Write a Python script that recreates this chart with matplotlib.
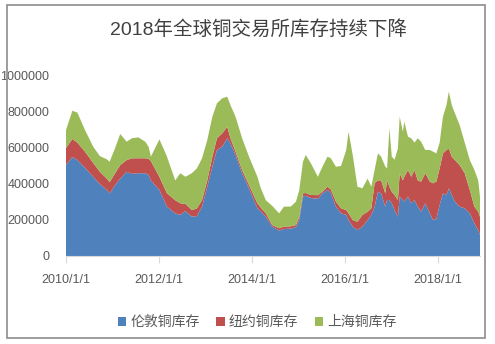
import numpy as np
import pandas as pd
import matplotlib
matplotlib.use("Agg")
import matplotlib.pyplot as plt
from matplotlib.patches import Rectangle

plt.rcParams['font.family'] = ['Liberation Sans', 'Noto Sans CJK SC', 'DejaVu Sans']

# copper stocks, thousand tonnes
dates = ["2010-01-01", "2010-02-20", "2010-04-01", "2010-05-30", "2010-08-03", "2010-09-24",
         "2010-11-18", "2010-12-10", "2011-01-22", "2011-03-03", "2011-04-23", "2011-06-02",
         "2011-07-23", "2011-09-16", "2011-10-12", "2011-10-30", "2012-01-05", "2012-03-03",
         "2012-05-08", "2012-06-17", "2012-07-27", "2012-09-16", "2012-10-26", "2012-12-05",
         "2013-01-15", "2013-02-24", "2013-04-01", "2013-05-12", "2013-06-21", "2013-07-16",
         "2013-08-25", "2013-10-16", "2013-12-09", "2014-02-13", "2014-03-10", "2014-04-20",
         "2014-06-10", "2014-08-03", "2014-09-09", "2014-11-03", "2014-12-13", "2015-01-08",
         "2015-02-06", "2015-02-28", "2015-04-09", "2015-06-03", "2015-07-09", "2015-08-18",
         "2015-09-13", "2015-10-23", "2015-12-02", "2016-01-12", "2016-01-30", "2016-03-03",
         "2016-04-09", "2016-05-18", "2016-06-28", "2016-07-27", "2016-08-22", "2016-09-17",
         "2016-10-12", "2016-11-14", "2016-11-28", "2016-12-16", "2017-01-04", "2017-01-26",
         "2017-02-21", "2017-03-07", "2017-04-01", "2017-04-12", "2017-05-11", "2017-06-06",
         "2017-07-01", "2017-07-27", "2017-08-22", "2017-09-24", "2017-10-30", "2017-11-24",
         "2017-12-20", "2018-01-15", "2018-02-10", "2018-03-10", "2018-03-28", "2018-04-20",
         "2018-05-15", "2018-06-21", "2018-07-31", "2018-09-09", "2018-10-15", "2018-11-14",
         "2018-11-28"]

london = [505, 550, 533, 490, 440, 400, 367, 348, 394, 430, 468, 456,
          460, 460, 450, 420, 367, 275, 237, 228, 250, 218, 222, 274,
          385, 496, 589, 607, 654, 626, 561, 460, 376, 265, 250, 218,
          163, 141, 150, 152, 160, 200, 330, 335, 322, 318, 348, 367,
          350, 274, 237, 228, 200, 163, 144, 163, 200, 228, 274, 357,
          348, 274, 311, 311, 293, 255, 218, 330, 311, 302, 330, 293,
          311, 274, 246, 293, 237, 200, 205, 283, 348, 339, 376, 339,
          302, 274, 265, 237, 181, 144, 117]

newyork = [95, 100, 97, 90, 77, 68, 63, 62, 66, 75, 65, 87,
           83, 83, 90, 107, 73, 75, 73, 65, 40, 37, 43, 37,
           35, 56, 65, 74, 64, 28, 19, 18, 18, 28, 20, 19,
           9, 13, 13, 13, 12, 18, 18, 15, 17, 20, 9, 18,
           20, 28, 28, 27, 37, 37, 46, 65, 46, 37, 130, 63,
           72, 74, 109, 74, 64, 84, 93, 130, 109, 138, 148, 147,
           167, 146, 167, 167, 176, 204, 208, 204, 222, 250, 222, 213,
           231, 231, 195, 130, 93, 102, 101]

shanghai = [100, 157, 166, 120, 90, 87, 107, 114, 140, 173, 102, 111,
            116, 92, 67, 25, 208, 205, 110, 167, 150, 205, 222, 232,
            224, 222, 194, 195, 167, 185, 194, 176, 158, 147, 110, 73,
            106, 83, 111, 110, 130, 149, 176, 211, 176, 102, 139, 167,
            173, 194, 235, 334, 453, 361, 195, 148, 184, 120, 74, 150,
            132, 148, 67, 324, 195, 196, 287, 314, 270, 306, 185, 214,
            152, 234, 222, 129, 176, 176, 157, 143, 204, 250, 315, 287,
            260, 223, 170, 166, 204, 174, 112]

labels = ["伦敦铜库存", "纽约铜库存", "上海铜库存"]
colors = ["#4F81BD", "#C0504D", "#9BBB59"]
tick_years = [2010, 2012, 2014, 2016, 2018]
y_ticks = [0, 200000, 400000, 600000, 800000, 1000000]

x = pd.to_datetime(dates)
ys = [np.array(s) * 1000 for s in (london, newyork, shanghai)]

fig = plt.figure(figsize=(4.95, 3.44), dpi=100)
fig.patches.append(Rectangle((7 / 495, 6 / 344), 478 / 495, 333 / 344,
                             transform=fig.transFigure, fill=False,
                             edgecolor="#8C8C8C", linewidth=1.2))

ax = fig.add_axes([66 / 495, 88 / 344, 414 / 495, 180 / 344])
ax.stackplot(x, *ys, labels=labels, colors=colors, linewidth=0)

ax.set_ylim(0, 1000000)
ax.set_yticks(y_ticks)
ax.set_yticklabels([str(v) for v in y_ticks])
ax.set_xlim(x[0], x[-1])
ax.set_xticks([pd.Timestamp(f"{yr}-01-01") for yr in tick_years])
ax.set_xticklabels([f"{yr}/1/1" for yr in tick_years])

for side in ["left", "right", "top"]:
    ax.spines[side].set_visible(False)
ax.spines["bottom"].set_color("#D9D9D9")
ax.tick_params(axis="y", length=0, pad=12, labelsize=9, labelcolor="#595959")
ax.tick_params(axis="x", length=5, color="#D9D9D9", pad=8, labelsize=9,
               labelcolor="#595959")

fig.text(0.523, 0.915, "2018年全球铜交易所库存持续下降", ha="center", va="center",
         fontsize=14, color="#404040")

leg = fig.legend(loc="center", bbox_to_anchor=(0.52, 0.063), ncol=3, frameon=False,
                 fontsize=10, handlelength=0.6, handleheight=0.6, handletextpad=0.3,
                 columnspacing=1.2)
for t in leg.get_texts():
    t.set_color("#595959")

fig.savefig("out.png", dpi=100)
